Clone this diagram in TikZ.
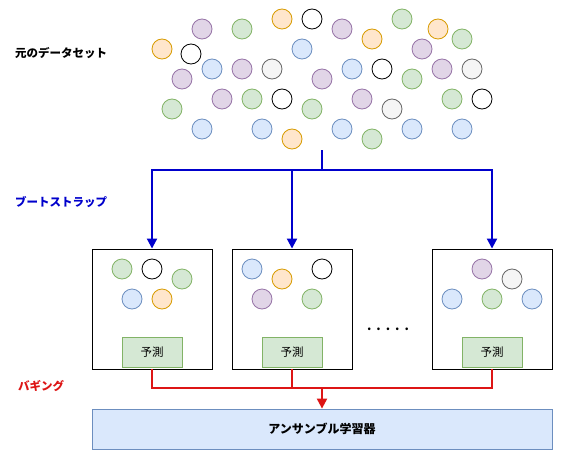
\documentclass[tikz,border=0pt]{standalone}
\usepackage{fontspec}
\setmainfont{Noto Sans CJK JP}
\usetikzlibrary{arrows.meta}
\usetikzlibrary{positioning}
\definecolor{GreenFill}{HTML}{D5E8D4}
\definecolor{GreenLine}{HTML}{82B366}
\definecolor{BlueFill}{HTML}{DAE8FC}
\definecolor{BlueLine}{HTML}{6C8EBF}
\definecolor{PurpleFill}{HTML}{E1D5E7}
\definecolor{PurpleLine}{HTML}{9673A6}
\definecolor{OrangeFill}{HTML}{FFE6CC}
\definecolor{OrangeLine}{HTML}{D79B00}
\definecolor{GrayFill}{HTML}{F5F5F5}
\definecolor{GrayLine}{HTML}{666666}
\definecolor{WhiteFill}{HTML}{FFFFFF}
\definecolor{WhiteLine}{HTML}{000000}
\definecolor{BootBlue}{HTML}{0000CC}
\definecolor{BagRed}{HTML}{DD1515}
\tikzset{
  diagram style/.style={
    x=1pt,y=-1pt,
    font=\fontsize{11.5}{14}\selectfont,
  },
  ball/.style={
    draw=#1Line,
    fill=#1Fill,
    circle,
    inner sep=0pt,
    minimum size=20,
    line width=0.8pt,
  },
  ballG/.style={ball=Green},
  ballB/.style={ball=Blue},
  ballP/.style={ball=Purple},
  ballO/.style={ball=Orange},
  ballK/.style={ball=Gray},
  ballW/.style={ball=White},
  bag box/.style={
    draw,
    line width=0.9pt,
    minimum width=120,
    minimum height=120,
    inner sep=0pt,
  },
  predict box/.style={
    draw=GreenLine,
    fill=GreenFill,
    line width=0.8pt,
    minimum width=60,
    minimum height=30,
    inner sep=0pt,
  },
  ensemble box/.style={
    draw=BlueLine,
    fill=BlueFill,
    line width=0.8pt,
    minimum width=460,
    minimum height=40,
    inner sep=0pt,
    font=\fontsize{12}{14}\selectfont\bfseries,
  },
  side label/.style={
    anchor=west,
    inner sep=0pt,
    font=\fontsize{11.5}{14}\selectfont\bfseries,
  },
  boot line/.style={
    draw=BootBlue,
    line width=2pt,
  },
  boot arrow/.style={
    boot line,
    -{Triangle[width=10pt,length=10pt]},
  },
  bag line/.style={
    draw=BagRed,
    line width=2pt,
  },
  bag arrow/.style={
    bag line,
    -{Triangle[width=10pt,length=10pt]},
  },
}

\begin{document}
\begin{tikzpicture}[diagram style]
  \useasboundingbox (0,0) rectangle (577,468);
  % original data set
  \foreach \x/\y/\s [count=\i] in {
      162/49/ballO, 202/29/ballP, 242/29/ballG, 282/19/ballO, 312/19/ballW,
      342/29/ballP, 372/39/ballO, 402/19/ballG, 438/29/ballO, 462/39/ballG,
      191/54/ballW, 302/49/ballB, 422/49/ballP, 212/69/ballB, 242/69/ballP,
      272/69/ballK, 352/69/ballB, 382/69/ballW, 442/69/ballP, 472/69/ballK,
      182/79/ballP, 322/79/ballP, 412/79/ballG, 222/99/ballP, 252/99/ballG,
      282/99/ballW, 362/99/ballP, 452/99/ballG, 482/99/ballW, 172/109/ballG,
      312/109/ballG, 392/109/ballK, 202/129/ballB, 262/129/ballB, 342/129/ballB,
      412/129/ballB, 462/129/ballB, 292/139/ballO, 372/139/ballG}
    \node[style=\s] (d\i) at (\x,\y) {};
  \coordinate (dsOut) at (322,150);
  \coordinate (split) at (322,170);

  \node[bag box] (bag1) at (152,309) {};
  \node[bag box] (bag2) at (292,309) {};
  \node[bag box] (bag3) at (492,309) {};
  \node[font=\fontsize{12.5}{14}\selectfont\bfseries] (dots) at (388,329) {.\hspace{5pt}.\hspace{5pt}.\hspace{5pt}.\hspace{5pt}.};

  \foreach \x/\y/\s [count=\i] in {
      122/269/ballG, 152/269/ballW, 182/279/ballG, 132/299/ballB, 162/299/ballO}
    \node[style=\s] (a\i) at (\x,\y) {};
  \foreach \x/\y/\s [count=\i] in {
      252/269/ballB, 282/279/ballO, 322/269/ballW, 262/299/ballP, 312/299/ballG}
    \node[style=\s] (b\i) at (\x,\y) {};
  \foreach \x/\y/\s [count=\i] in {
      482/269/ballP, 512/279/ballK, 452/299/ballB, 492/299/ballG, 532/299/ballB}
    \node[style=\s] (c\i) at (\x,\y) {};

  \node[predict box, above=2pt of bag1.south] (pred1) {予測};
  \node[predict box, above=2pt of bag2.south] (pred2) {予測};
  \node[predict box, above=2pt of bag3.south] (pred3) {予測};

  \node[ensemble box] (ens) at (322,429) {アンサンブル学習器};
  \coordinate (merge) at (322,388);

  \node[side label] (lblData) at (15,53) {元のデータセット};
  \node[side label, BootBlue] (lblBoot) at (15,202) {ブートストラップ};
  \node[side label, BagRed] (lblBag) at (18,386) {バギング};

  \draw[boot line] (dsOut) -- (split);
  \draw[boot arrow] (split) -| (bag1.north);
  \draw[boot arrow] (split) -| (bag2.north);
  \draw[boot arrow] (split) -| (bag3.north);

  \draw[bag line] (bag1.south) |- (merge);
  \draw[bag line] (bag2.south) |- (merge);
  \draw[bag line] (bag3.south) |- (merge);
  \draw[bag arrow] (merge) -- (ens.north);
\end{tikzpicture}
\end{document}
